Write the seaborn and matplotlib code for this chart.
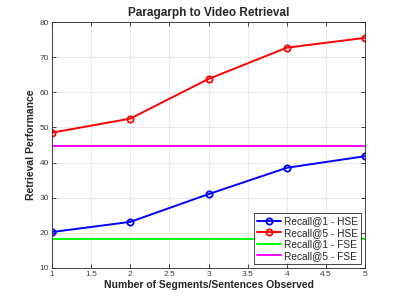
import seaborn as sns
import matplotlib.pyplot as plt
import pandas as pd

# Values
segments = [1, 2, 3, 4, 5]
recall1_hse = [20.2, 23.1, 31.0, 38.5, 41.8]
recall5_hse = [48.5, 52.5, 63.8, 72.7, 75.5]
recall1_fse = 18.2
recall5_fse = 44.8
x_ticks = [1, 1.5, 2, 2.5, 3, 3.5, 4, 4.5, 5]
y_ticks = [10, 20, 30, 40, 50, 60, 70, 80]

sns.set_theme(style="ticks")
plt.rcParams['font.family'] = ['Liberation Sans', 'DejaVu Sans']

df = pd.DataFrame({'segments': segments, 'r1': recall1_hse, 'r5': recall5_hse})

fig = plt.figure(figsize=(4.03, 3.02), dpi=100)
ax = fig.add_axes([0.129, 0.113, 0.777, 0.814])

sns.lineplot(data=df, x='segments', y='r1', ax=ax, color='blue', marker='o',
             markersize=4.5, markerfacecolor='none', markeredgecolor='blue',
             markeredgewidth=1.3, linewidth=1.4, label='Recall@1 - HSE')
sns.lineplot(data=df, x='segments', y='r5', ax=ax, color='red', marker='o',
             markersize=4.5, markerfacecolor='none', markeredgecolor='red',
             markeredgewidth=1.3, linewidth=1.4, label='Recall@5 - HSE')
ax.axhline(recall1_fse, color='#00ff00', linewidth=1.4, label='Recall@1 - FSE')
ax.axhline(recall5_fse, color='magenta', linewidth=1.4, label='Recall@5 - FSE')

ax.set_xlim(1, 5)
ax.set_ylim(10, 80)
ax.set_xticks(x_ticks)
ax.set_xticklabels(['1', '1.5', '2', '2.5', '3', '3.5', '4', '4.5', '5'])
ax.set_yticks(y_ticks)
ax.grid(True, color='#e6e6e6', linewidth=0.6)
ax.set_axisbelow(True)
for s in ax.spines.values():
    s.set_color('#262626')
    s.set_linewidth(0.6)
ax.tick_params(direction='in', length=3, width=0.6, labelsize=6,
               colors='#262626', labelcolor='#404040', pad=2,
               top=True, right=True)

ax.set_title('Paragarph to Video Retrieval', fontsize=8.5, fontweight='bold', pad=4)
ax.set_xlabel('Number of Segments/Sentences Observed', fontsize=7.5,
              fontweight='bold', color='#262626', labelpad=2)
ax.set_ylabel('Retrieval Performance', fontsize=7.5, fontweight='bold',
              color='#262626', labelpad=3)

leg = ax.legend(loc='lower right', fontsize=7.3, frameon=True, fancybox=False,
                framealpha=1, edgecolor='#262626', borderpad=0.3,
                labelspacing=0.15, handlelength=2.4, handletextpad=0.3,
                borderaxespad=0.4)
leg.get_frame().set_linewidth(0.6)

fig.savefig('out.png', dpi=100)
